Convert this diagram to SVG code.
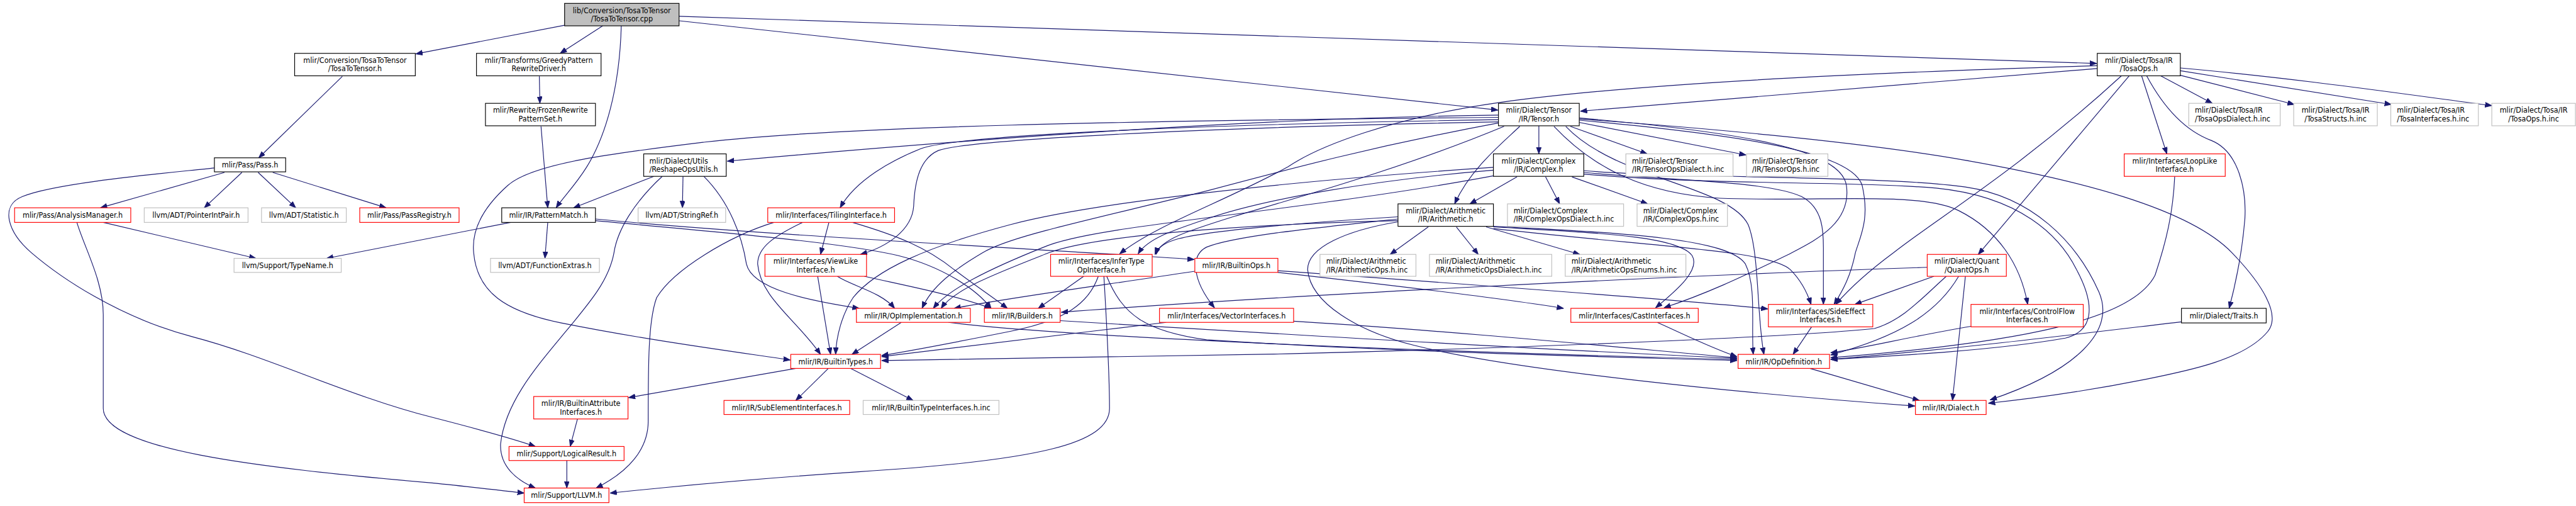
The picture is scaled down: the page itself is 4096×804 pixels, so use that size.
<svg xmlns="http://www.w3.org/2000/svg" width="4096" height="804" viewBox="0 0 4096 804">
<style>
rect{fill:#fff;stroke-width:1.3}
.k{stroke:#000}
.r{stroke:#f00}
.g{stroke:#bfbfbf}
.m{fill:#bfbfbf;stroke:#000}
text{font-family:"DejaVu Sans Condensed","DejaVu Sans",sans-serif;font-stretch:condensed;font-size:14px;fill:#000}
.c{text-anchor:middle}
#edges path{fill:none;stroke:#191970;stroke-width:1.3;marker-end:url(#ah)}
</style>
<defs>
<marker id="ah" markerUnits="userSpaceOnUse" markerWidth="14" markerHeight="11" refX="12" refY="4.5" orient="auto"><path d="M0,0 L12,4.5 L0,9 z" fill="#191970" stroke="#191970" stroke-width="1"/></marker>
</defs>
<rect x="0" y="0" width="4096" height="804" style="fill:#fff;stroke:none"/>
<g transform="scale(0.89237)">
<g id="edges">
<path d="M1006,45 L741,96"/>
<path d="M1074,46 L998,95"/>
<path d="M1107,46 C1104,160 1078,245 1045,298 C1025,330 1003,352 991,370"/>
<path d="M1210,37 L2669,196"/>
<path d="M1210,29 L3736,113"/>
<path d="M610,136 L461,281"/>
<path d="M961,136 L962,184"/>
<path d="M964,225 L976,370"/>
<path d="M400,307 L179,370"/>
<path d="M431,307 L364,370"/>
<path d="M460,307 L527,370"/>
<path d="M486,307 L688,370"/>
<path d="M382,299 C300,308 100,325 40,350 C-2,367 15,415 56,450 C105,492 210,565 344,600 C478,635 620,705 770,743 C840,761 920,783 954,795"/>
<path d="M137,396 C150,440 184,500 184,560 L184,727 C184,800 450,832 770,860 C830,866 890,873 934,878"/>
<path d="M184,396 L456,460"/>
<path d="M910,396 L582,460"/>
<path d="M976,396 L971,460"/>
<path d="M1061,390 C1350,418 1800,440 2128,462"/>
<path d="M1061,393 C1300,415 1500,432 1600,455 C1680,475 1740,515 1766,549"/>
<path d="M1165,314 L1022,370"/>
<path d="M1180,314 C1130,360 1100,410 1094,450 C1085,500 1050,540 1000,600 C950,660 900,720 892,790 C890,830 920,855 954,869"/>
<path d="M1217,314 L1216,370"/>
<path d="M1254,314 C1300,360 1322,420 1330,470 C1340,515 1440,535 1531,549"/>
<path d="M2670,205 C2200,210 1650,255 1296,287"/>
<path d="M2742,224 L2742,274"/>
<path d="M2708,225 C2680,252 2620,300 2592,363"/>
<path d="M2798,225 L2935,274"/>
<path d="M2814,218 L3111,276"/>
<path d="M2670,213 C2100,222 1700,242 1640,265 C1590,285 1525,320 1497,370"/>
<path d="M2670,209 C2000,215 1500,225 1256,253 C1100,272 950,290 905,330 C860,370 840,410 844,450 C850,520 900,555 1000,575 C1150,605 1300,625 1408,641"/>
<path d="M2670,217 C2100,228 1720,250 1672,268 C1640,282 1630,320 1628,367 C1625,410 1580,440 1533,453"/>
<path d="M2670,219 C2450,260 2300,300 2150,340 C1950,390 1800,420 1751,450 C1700,480 1660,510 1643,549"/>
<path d="M2680,225 C2500,300 2300,355 2200,385 C2120,410 2070,425 2058,453"/>
<path d="M2814,210 C3100,235 3280,265 3290,330 C3300,400 3230,430 3183,455 C3120,485 3050,520 2965,548"/>
<path d="M2814,214 C3100,240 3300,270 3318,330 C3332,390 3315,420 3306,450 C3298,490 3285,515 3268,542"/>
<path d="M2814,212 C3000,225 3300,250 3500,285 C3700,320 3900,370 3977,450 C4030,505 4065,560 4041,590 C4000,640 3900,660 3825,675 C3700,700 3600,712 3543,718"/>
<path d="M2769,225 C2840,300 2930,345 3065,353 C3250,360 3420,340 3490,375 C3560,410 3600,470 3613,542"/>
<path d="M2790,225 C2880,320 3080,330 3115,400 C3135,450 3130,560 3143,631"/>
<path d="M2703,315 L2619,363"/>
<path d="M2754,315 L2779,363"/>
<path d="M2801,315 L2936,363"/>
<path d="M2822,307 C2980,322 3150,322 3210,350 C3252,372 3249,420 3249,450 L3249,542"/>
<path d="M2822,304 C3000,318 3350,312 3502,333 C3620,350 3700,430 3740,520 C3770,590 3700,660 3546,712"/>
<path d="M2822,310 C3050,330 3300,322 3450,335 C3600,350 3670,420 3700,480 C3735,545 3730,590 3680,602 C3550,625 3350,635 3262,640"/>
<path d="M2661,298 C2300,322 1950,360 1800,400 C1650,440 1560,480 1520,530 C1500,560 1490,600 1489,631"/>
<path d="M2661,303 C2450,320 2250,355 2150,390 C2090,410 2045,425 2028,452"/>
<path d="M2661,313 C2300,380 1950,400 1860,440 C1760,480 1690,515 1663,549"/>
<path d="M2545,404 L2477,453"/>
<path d="M2595,404 L2634,453"/>
<path d="M2648,404 L2815,453"/>
<path d="M2491,395 C2400,410 2330,440 2330,480 C2335,540 2420,590 2520,615 C2700,660 3100,700 3412,723"/>
<path d="M2491,390 C2350,405 2200,420 2150,440 C2120,455 2125,500 2164,548"/>
<path d="M2491,386 C2300,398 2150,412 2100,425 C2075,432 2063,440 2060,453"/>
<path d="M2491,393 C2200,400 1950,420 1869,450 C1780,485 1700,515 1677,549"/>
<path d="M2661,404 C2850,415 2990,420 3015,455 C3030,480 2990,515 2950,548"/>
<path d="M2661,407 C2950,440 3150,445 3190,480 C3210,500 3220,520 3227,542"/>
<path d="M2661,403 C2900,415 3080,425 3110,470 C3130,510 3120,580 3124,631"/>
<path d="M3737,122 L2816,198"/>
<path d="M3737,117 C3300,130 2900,150 2668,183 C2480,210 2350,260 2295,297 C2180,360 2060,400 1995,452"/>
<path d="M3780,135 C3600,300 3450,390 3374,450 C3320,490 3290,520 3271,542"/>
<path d="M3794,135 L3525,453"/>
<path d="M3816,135 L3861,274"/>
<path d="M3825,135 C3860,200 3900,235 3940,250 C3990,270 4003,340 4000,390 C3995,450 3985,500 3972,549"/>
<path d="M3850,135 L3942,184"/>
<path d="M3885,134 L4088,186"/>
<path d="M3885,126 L4261,186"/>
<path d="M3885,121 C4100,140 4300,170 4440,188"/>
<path d="M3434,476 C3000,490 2300,525 1891,556"/>
<path d="M3446,492 L3305,542"/>
<path d="M3468,492 C3420,535 3390,570 3340,585 C3200,600 2700,620 2295,630 C2000,636 1700,640 1571,642"/>
<path d="M3490,492 C3450,560 3380,600 3262,632"/>
<path d="M3502,492 L3479,713"/>
<path d="M1931,492 L1850,549"/>
<path d="M1957,492 C1940,540 1900,570 1800,590 C1700,610 1620,625 1571,633"/>
<path d="M1967,492 C1972,580 1977,660 1977,727 C1977,790 1850,820 1530,840 C1350,852 1200,866 1087,878"/>
<path d="M1972,492 C2000,560 2040,590 2150,605 C2500,628 2900,636 3095,642"/>
<path d="M2129,483 C1950,510 1800,530 1700,549"/>
<path d="M2277,485 C2500,510 2700,535 2786,549"/>
<path d="M2277,482 C2600,505 3000,535 3150,550"/>
<path d="M1457,492 L1480,631"/>
<path d="M1492,492 C1520,510 1570,520 1594,549"/>
<path d="M1540,492 C1620,510 1700,525 1766,549"/>
<path d="M1379,396 C1300,420 1200,480 1170,530 C1155,570 1155,650 1155,750 C1155,800 1120,840 1062,869"/>
<path d="M1430,396 C1380,420 1350,440 1350,470 C1355,530 1420,570 1462,631"/>
<path d="M1477,396 L1462,453"/>
<path d="M1519,396 C1600,420 1650,440 1700,480 C1740,510 1770,530 1795,549"/>
<path d="M1606,574 L1518,631"/>
<path d="M1690,574 C1900,600 2500,625 3095,640"/>
<path d="M1889,571 C2200,590 2700,620 3095,638"/>
<path d="M2078,574 C1900,595 1700,620 1571,635"/>
<path d="M2305,572 C2600,590 2900,620 3095,637"/>
<path d="M2953,574 C3000,595 3050,620 3095,635"/>
<path d="M3228,582 L3195,631"/>
<path d="M3512,581 C3400,600 3320,620 3262,628"/>
<path d="M3875,314 C3872,380 3860,430 3840,490 C3800,570 3600,610 3262,637"/>
<path d="M3887,573 C3700,595 3500,620 3262,640"/>
<path d="M3225,656 L3420,713"/>
<path d="M1418,656 L1120,708"/>
<path d="M1476,656 L1418,713"/>
<path d="M1516,656 L1627,713"/>
<path d="M1029,746 L1016,795"/>
<path d="M1010,820 L1010,869"/>
</g>
<g id="n0"><rect class="m" x="1006" y="6" width="204" height="40"/><text class="c" x="1108" y="23">lib/Conversion/TosaToTensor</text><text class="c" x="1108" y="38">/TosaToTensor.cpp</text></g>
<g id="n1"><rect class="k" x="525" y="95" width="215" height="40"/><text class="c" x="632.5" y="112">mlir/Conversion/TosaToTensor</text><text class="c" x="632.5" y="127">/TosaToTensor.h</text></g>
<g id="n2"><rect class="k" x="849" y="95" width="222" height="40"/><text class="c" x="960" y="112">mlir/Transforms/GreedyPattern</text><text class="c" x="960" y="127">RewriteDriver.h</text></g>
<g id="n3"><rect class="k" x="3737" y="95" width="148" height="40"/><text class="c" x="3811" y="112">mlir/Dialect/Tosa/IR</text><text class="c" x="3811" y="127">/TosaOps.h</text></g>
<g id="n4"><rect class="k" x="865" y="184" width="196" height="40"/><text class="c" x="963" y="201">mlir/Rewrite/FrozenRewrite</text><text class="c" x="963" y="216">PatternSet.h</text></g>
<g id="n5"><rect class="k" x="2670" y="184" width="144" height="40"/><text class="c" x="2742" y="201">mlir/Dialect/Tensor</text><text class="c" x="2742" y="216">/IR/Tensor.h</text></g>
<g id="n6"><rect class="g" x="3900" y="184" width="163" height="40"/><text x="3911" y="201">mlir/Dialect/Tosa/IR</text><text x="3911" y="216">/TosaOpsDialect.h.inc</text></g>
<g id="n7"><rect class="g" x="4087" y="184" width="149" height="40"/><text class="c" x="4161.5" y="201">mlir/Dialect/Tosa/IR</text><text class="c" x="4161.5" y="216">/TosaStructs.h.inc</text></g>
<g id="n8"><rect class="g" x="4260" y="184" width="156" height="40"/><text x="4271" y="201">mlir/Dialect/Tosa/IR</text><text x="4271" y="216">/TosaInterfaces.h.inc</text></g>
<g id="n9"><rect class="g" x="4440" y="184" width="149" height="40"/><text class="c" x="4514.5" y="201">mlir/Dialect/Tosa/IR</text><text class="c" x="4514.5" y="216">/TosaOps.h.inc</text></g>
<g id="n10"><rect class="k" x="1147" y="274" width="147" height="40"/><text x="1157" y="291">mlir/Dialect/Utils</text><text x="1157" y="306">/ReshapeOpsUtils.h</text></g>
<g id="n11"><rect class="k" x="2661" y="274" width="161" height="40"/><text class="c" x="2741.5" y="291">mlir/Dialect/Complex</text><text class="c" x="2741.5" y="306">/IR/Complex.h</text></g>
<g id="n12"><rect class="g" x="2897" y="274" width="191" height="40"/><text x="2908" y="291">mlir/Dialect/Tensor</text><text x="2908" y="306">/IR/TensorOpsDialect.h.inc</text></g>
<g id="n13"><rect class="g" x="3112" y="274" width="145" height="40"/><text x="3122" y="291">mlir/Dialect/Tensor</text><text x="3122" y="306">/IR/TensorOps.h.inc</text></g>
<g id="n14"><rect class="r" x="3785" y="274" width="180" height="40"/><text class="c" x="3875" y="291">mlir/Interfaces/LoopLike</text><text class="c" x="3875" y="306">Interface.h</text></g>
<g id="n15"><rect class="k" x="382" y="281" width="127" height="25"/><text class="c" x="445.5" y="298.5">mlir/Pass/Pass.h</text></g>
<g id="n16"><rect class="r" x="26" y="370" width="207" height="26"/><text class="c" x="129.5" y="387.5">mlir/Pass/AnalysisManager.h</text></g>
<g id="n17"><rect class="g" x="257" y="370" width="185" height="26"/><text class="c" x="349.5" y="387.5">llvm/ADT/PointerIntPair.h</text></g>
<g id="n18"><rect class="g" x="466" y="370" width="151" height="26"/><text class="c" x="541.5" y="387.5">llvm/ADT/Statistic.h</text></g>
<g id="n19"><rect class="r" x="641" y="370" width="177" height="26"/><text class="c" x="729.5" y="387.5">mlir/Pass/PassRegistry.h</text></g>
<g id="n20"><rect class="k" x="894" y="370" width="167" height="26"/><text class="c" x="977.5" y="387.5">mlir/IR/PatternMatch.h</text></g>
<g id="n21"><rect class="g" x="1137" y="370" width="156" height="26"/><text class="c" x="1215" y="387.5">llvm/ADT/StringRef.h</text></g>
<g id="n22"><rect class="r" x="1368" y="370" width="226" height="26"/><text class="c" x="1481" y="387.5">mlir/Interfaces/TilingInterface.h</text></g>
<g id="n23"><rect class="k" x="2491" y="363" width="170" height="40"/><text class="c" x="2576" y="380">mlir/Dialect/Arithmetic</text><text class="c" x="2576" y="395">/IR/Arithmetic.h</text></g>
<g id="n24"><rect class="g" x="2686" y="363" width="207" height="40"/><text x="2697" y="380">mlir/Dialect/Complex</text><text x="2697" y="395">/IR/ComplexOpsDialect.h.inc</text></g>
<g id="n25"><rect class="g" x="2917" y="363" width="161" height="40"/><text x="2928" y="380">mlir/Dialect/Complex</text><text x="2928" y="395">/IR/ComplexOps.h.inc</text></g>
<g id="n26"><rect class="g" x="417" y="460" width="191" height="25"/><text class="c" x="512.5" y="477.5">llvm/Support/TypeName.h</text></g>
<g id="n27"><rect class="g" x="874" y="460" width="194" height="25"/><text class="c" x="971" y="477.5">llvm/ADT/FunctionExtras.h</text></g>
<g id="n28"><rect class="r" x="1363" y="453" width="181" height="39"/><text class="c" x="1453.5" y="470">mlir/Interfaces/ViewLike</text><text class="c" x="1453.5" y="485">Interface.h</text></g>
<g id="n29"><rect class="r" x="1872" y="453" width="181" height="39"/><text class="c" x="1962.5" y="470">mlir/Interfaces/InferType</text><text class="c" x="1962.5" y="485">OpInterface.h</text></g>
<g id="n30"><rect class="r" x="2129" y="460" width="148" height="25"/><text class="c" x="2203" y="477.5">mlir/IR/BuiltinOps.h</text></g>
<g id="n31"><rect class="g" x="2352" y="453" width="171" height="39"/><text x="2363" y="470">mlir/Dialect/Arithmetic</text><text x="2363" y="485">/IR/ArithmeticOps.h.inc</text></g>
<g id="n32"><rect class="g" x="2547" y="453" width="218" height="39"/><text x="2558" y="470">mlir/Dialect/Arithmetic</text><text x="2558" y="485">/IR/ArithmeticOpsDialect.h.inc</text></g>
<g id="n33"><rect class="g" x="2789" y="453" width="215" height="39"/><text x="2800" y="470">mlir/Dialect/Arithmetic</text><text x="2800" y="485">/IR/ArithmeticOpsEnums.h.inc</text></g>
<g id="n34"><rect class="r" x="3434" y="453" width="141" height="39"/><text class="c" x="3504.5" y="470">mlir/Dialect/Quant</text><text class="c" x="3504.5" y="485">/QuantOps.h</text></g>
<g id="n35"><rect class="r" x="1526" y="549" width="203" height="25"/><text class="c" x="1627.5" y="566.5">mlir/IR/OpImplementation.h</text></g>
<g id="n36"><rect class="r" x="1754" y="549" width="135" height="25"/><text class="c" x="1821.5" y="566.5">mlir/IR/Builders.h</text></g>
<g id="n37"><rect class="r" x="2066" y="549" width="239" height="25"/><text class="c" x="2185.5" y="566.5">mlir/Interfaces/VectorInterfaces.h</text></g>
<g id="n38"><rect class="r" x="2799" y="549" width="227" height="25"/><text class="c" x="2912.5" y="566.5">mlir/Interfaces/CastInterfaces.h</text></g>
<g id="n39"><rect class="r" x="3151" y="542" width="186" height="40"/><text class="c" x="3244" y="559">mlir/Interfaces/SideEffect</text><text class="c" x="3244" y="574">Interfaces.h</text></g>
<g id="n40"><rect class="r" x="3512" y="542" width="200" height="40"/><text class="c" x="3612" y="559">mlir/Interfaces/ControlFlow</text><text class="c" x="3612" y="574">Interfaces.h</text></g>
<g id="n41"><rect class="k" x="3887" y="549" width="151" height="26"/><text class="c" x="3962.5" y="566.5">mlir/Dialect/Traits.h</text></g>
<g id="n42"><rect class="r" x="1409" y="631" width="160" height="25"/><text class="c" x="1489" y="648.5">mlir/IR/BuiltinTypes.h</text></g>
<g id="n43"><rect class="r" x="3097" y="631" width="163" height="25"/><text class="c" x="3178.5" y="648.5">mlir/IR/OpDefinition.h</text></g>
<g id="n44"><rect class="r" x="951" y="706" width="168" height="40"/><text class="c" x="1035" y="723">mlir/IR/BuiltinAttribute</text><text class="c" x="1035" y="738">Interfaces.h</text></g>
<g id="n45"><rect class="r" x="1290" y="713" width="224" height="25"/><text class="c" x="1402" y="730.5">mlir/IR/SubElementInterfaces.h</text></g>
<g id="n46"><rect class="g" x="1538" y="713" width="242" height="25"/><text class="c" x="1659" y="730.5">mlir/IR/BuiltinTypeInterfaces.h.inc</text></g>
<g id="n47"><rect class="r" x="3413" y="713" width="126" height="25"/><text class="c" x="3476" y="730.5">mlir/IR/Dialect.h</text></g>
<g id="n48"><rect class="r" x="907" y="795" width="205" height="25"/><text class="c" x="1009.5" y="812.5">mlir/Support/LogicalResult.h</text></g>
<g id="n49"><rect class="r" x="934" y="869" width="151" height="26"/><text class="c" x="1009.5" y="886.5">mlir/Support/LLVM.h</text></g>
</g>
</svg>
